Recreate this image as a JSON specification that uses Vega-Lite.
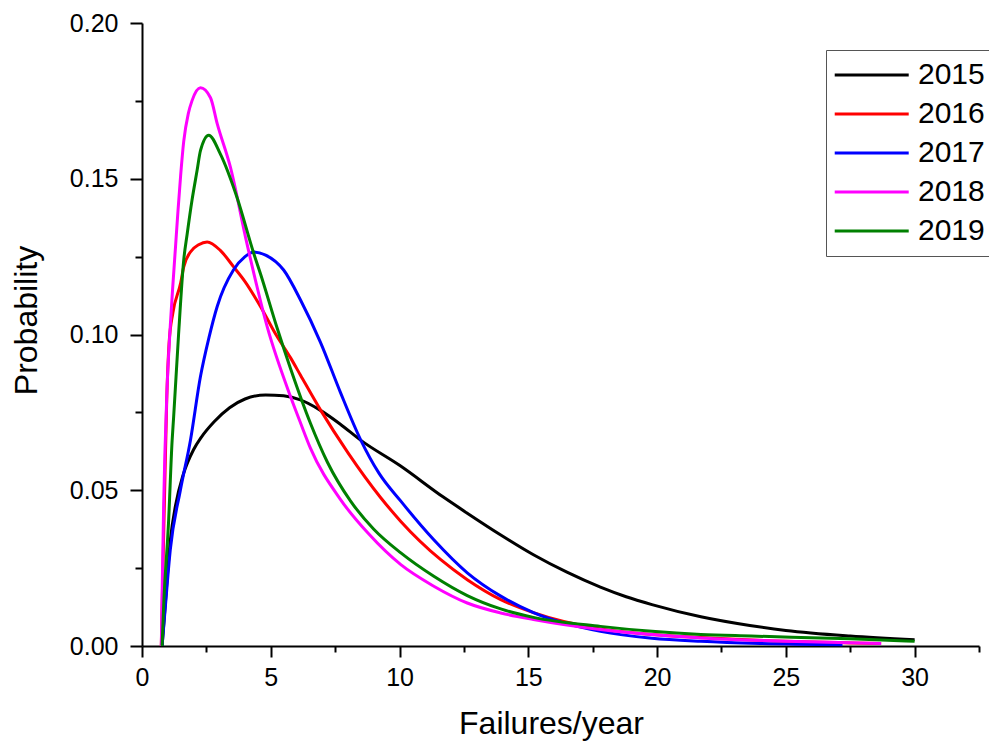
{
  "$schema": "https://vega.github.io/schema/vega-lite/v6.json",
  "width": 837,
  "height": 623,
  "autosize": "none",
  "padding": {"left": 142, "top": 23, "right": 10, "bottom": 97},
  "background": "white",
  "config": {"view": {"stroke": null}, "font": "Liberation Sans"},
  "data": {"values": [
    {"year":"2015","x":0.78,"y":0},{"year":"2015","x":0.9,"y":0.013},{"year":"2015","x":1.1,"y":0.034},{"year":"2015","x":1.3,"y":0.045},{"year":"2015","x":1.6,"y":0.055},{"year":"2015","x":2.0,"y":0.063},{"year":"2015","x":2.3,"y":0.067},{"year":"2015","x":2.8,"y":0.072},{"year":"2015","x":3.4,"y":0.0765},{"year":"2015","x":4.0,"y":0.0793},{"year":"2015","x":4.8,"y":0.0806},{"year":"2015","x":5.5,"y":0.0803},{"year":"2015","x":6.15,"y":0.079},{"year":"2015","x":6.9,"y":0.0758},{"year":"2015","x":7.7,"y":0.0712},{"year":"2015","x":8.5,"y":0.066},{"year":"2015","x":10.0,"y":0.058},{"year":"2015","x":11.7,"y":0.0478},{"year":"2015","x":12.6,"y":0.0428},{"year":"2015","x":13.9,"y":0.0358},{"year":"2015","x":15.2,"y":0.0293},{"year":"2015","x":16.5,"y":0.0237},{"year":"2015","x":17.8,"y":0.0189},{"year":"2015","x":18.8,"y":0.0158},{"year":"2015","x":19.8,"y":0.0133},{"year":"2015","x":21.7,"y":0.0094},{"year":"2015","x":23.6,"y":0.0066},{"year":"2015","x":25.0,"y":0.005},{"year":"2015","x":27.5,"y":0.0032},{"year":"2015","x":30.0,"y":0.002},
    {"year":"2016","x":0.75,"y":0},{"year":"2016","x":0.8,"y":0.02},{"year":"2016","x":0.88,"y":0.05},{"year":"2016","x":0.96,"y":0.079},{"year":"2016","x":1.05,"y":0.097},{"year":"2016","x":1.2,"y":0.107},{"year":"2016","x":1.5,"y":0.1165},{"year":"2016","x":1.62,"y":0.1217},{"year":"2016","x":1.88,"y":0.1265},{"year":"2016","x":2.2,"y":0.1288},{"year":"2016","x":2.53,"y":0.1297},{"year":"2016","x":3.04,"y":0.127},{"year":"2016","x":3.56,"y":0.1217},{"year":"2016","x":4.0,"y":0.117},{"year":"2016","x":4.6,"y":0.109},{"year":"2016","x":5.2,"y":0.1},{"year":"2016","x":5.77,"y":0.0925},{"year":"2016","x":6.15,"y":0.087},{"year":"2016","x":6.93,"y":0.0758},{"year":"2016","x":8.0,"y":0.062},{"year":"2016","x":9.27,"y":0.0476},{"year":"2016","x":10.05,"y":0.04},{"year":"2016","x":11.6,"y":0.0277},{"year":"2016","x":12.63,"y":0.0213},{"year":"2016","x":13.93,"y":0.0149},{"year":"2016","x":15.2,"y":0.0107},{"year":"2016","x":17.8,"y":0.0055},{"year":"2016","x":19.8,"y":0.0037},{"year":"2016","x":21.7,"y":0.0027},{"year":"2016","x":25.0,"y":0.0015},{"year":"2016","x":28.7,"y":0.0008},
    {"year":"2017","x":0.78,"y":0},{"year":"2017","x":0.9,"y":0.012},{"year":"2017","x":1.1,"y":0.031},{"year":"2017","x":1.49,"y":0.05},{"year":"2017","x":1.88,"y":0.066},{"year":"2017","x":2.27,"y":0.0865},{"year":"2017","x":2.6,"y":0.099},{"year":"2017","x":2.92,"y":0.109},{"year":"2017","x":3.55,"y":0.1207},{"year":"2017","x":4.0,"y":0.125},{"year":"2017","x":4.33,"y":0.1265},{"year":"2017","x":4.8,"y":0.1255},{"year":"2017","x":5.5,"y":0.1207},{"year":"2017","x":6.16,"y":0.111},{"year":"2017","x":6.93,"y":0.0975},{"year":"2017","x":7.7,"y":0.0815},{"year":"2017","x":8.49,"y":0.0662},{"year":"2017","x":9.2,"y":0.0555},{"year":"2017","x":10.05,"y":0.0465},{"year":"2017","x":11.33,"y":0.0341},{"year":"2017","x":12.63,"y":0.0235},{"year":"2017","x":13.93,"y":0.016},{"year":"2017","x":15.2,"y":0.0107},{"year":"2017","x":17.8,"y":0.0047},{"year":"2017","x":19.8,"y":0.0025},{"year":"2017","x":21.7,"y":0.0015},{"year":"2017","x":24.0,"y":0.0008},{"year":"2017","x":27.2,"y":0.0004},
    {"year":"2018","x":0.75,"y":0},{"year":"2018","x":0.78,"y":0.016},{"year":"2018","x":0.84,"y":0.045},{"year":"2018","x":0.97,"y":0.082},{"year":"2018","x":1.1,"y":0.103},{"year":"2018","x":1.2,"y":0.116},{"year":"2018","x":1.3,"y":0.128},{"year":"2018","x":1.4,"y":0.14},{"year":"2018","x":1.5,"y":0.151},{"year":"2018","x":1.62,"y":0.162},{"year":"2018","x":1.8,"y":0.171},{"year":"2018","x":1.94,"y":0.175},{"year":"2018","x":2.27,"y":0.1792},{"year":"2018","x":2.66,"y":0.176},{"year":"2018","x":2.92,"y":0.1677},{"year":"2018","x":3.43,"y":0.1538},{"year":"2018","x":4.08,"y":0.129},{"year":"2018","x":4.86,"y":0.1025},{"year":"2018","x":5.77,"y":0.08},{"year":"2018","x":6.16,"y":0.0715},{"year":"2018","x":6.54,"y":0.0635},{"year":"2018","x":7.71,"y":0.047},{"year":"2018","x":8.8,"y":0.036},{"year":"2018","x":10.05,"y":0.0261},{"year":"2018","x":11.33,"y":0.0192},{"year":"2018","x":12.63,"y":0.0138},{"year":"2018","x":13.93,"y":0.0106},{"year":"2018","x":15.2,"y":0.0085},{"year":"2018","x":17.8,"y":0.0053},{"year":"2018","x":19.8,"y":0.0037},{"year":"2018","x":21.7,"y":0.0026},{"year":"2018","x":25.0,"y":0.0015},{"year":"2018","x":28.7,"y":0.0008},
    {"year":"2019","x":0.78,"y":0},{"year":"2019","x":0.84,"y":0.0128},{"year":"2019","x":1.03,"y":0.0396},{"year":"2019","x":1.17,"y":0.066},{"year":"2019","x":1.23,"y":0.0737},{"year":"2019","x":1.42,"y":0.1},{"year":"2019","x":1.62,"y":0.1239},{"year":"2019","x":1.75,"y":0.132},{"year":"2019","x":1.94,"y":0.143},{"year":"2019","x":2.14,"y":0.1527},{"year":"2019","x":2.27,"y":0.159},{"year":"2019","x":2.59,"y":0.164},{"year":"2019","x":3.04,"y":0.158},{"year":"2019","x":3.69,"y":0.144},{"year":"2019","x":4.34,"y":0.126},{"year":"2019","x":4.6,"y":0.1195},{"year":"2019","x":5.25,"y":0.102},{"year":"2019","x":5.77,"y":0.089},{"year":"2019","x":6.54,"y":0.0715},{"year":"2019","x":7.2,"y":0.059},{"year":"2019","x":8.1,"y":0.0465},{"year":"2019","x":9.0,"y":0.0375},{"year":"2019","x":10.05,"y":0.0299},{"year":"2019","x":11.33,"y":0.0224},{"year":"2019","x":12.63,"y":0.0162},{"year":"2019","x":13.93,"y":0.0119},{"year":"2019","x":15.2,"y":0.0092},{"year":"2019","x":17.8,"y":0.0063},{"year":"2019","x":19.8,"y":0.0047},{"year":"2019","x":21.7,"y":0.0037},{"year":"2019","x":23.65,"y":0.0032},{"year":"2019","x":27.5,"y":0.0023},{"year":"2019","x":30.0,"y":0.0015}
  ]},
  "mark": {"type": "line", "strokeWidth": 3, "interpolate": "monotone"},
  "encoding": {
    "x": {
      "field": "x", "type": "quantitative",
      "scale": {"domain": [0, 32.5], "nice": false, "zero": false},
      "axis": {
        "title": "Failures/year",
        "values": [0, 2.5, 5, 7.5, 10, 12.5, 15, 17.5, 20, 22.5, 25, 27.5, 30, 32.5],
        "labelExpr": "datum.value % 5 === 0 ? format(datum.value, 'd') : ''",
        "labelOverlap": false,
        "labelFlush": false,
        "grid": false,
        "domainColor": "black", "domainWidth": 2,
        "tickColor": "black", "tickWidth": 2,
        "tickSize": {"condition": {"test": "datum.value % 5 === 0", "value": 11}, "value": 6},
        "labelPadding": 8,
        "labelFontSize": 25, "labelColor": "black", "labelFont": "Liberation Sans",
        "titleFontSize": 32, "titleFontWeight": "normal", "titleColor": "black", "titleFont": "Liberation Sans",
        "titlePadding": 18, "titleX": 409
      }
    },
    "y": {
      "field": "y", "type": "quantitative",
      "scale": {"domain": [0, 0.2], "nice": false},
      "axis": {
        "title": "Probability",
        "values": [0, 0.025, 0.05, 0.075, 0.1, 0.125, 0.15, 0.175, 0.2],
        "labelExpr": "abs(datum.value * 20 - round(datum.value * 20)) < 0.001 ? format(datum.value, '.2f') : ''",
        "labelOverlap": false,
        "labelFlush": false,
        "grid": false,
        "domainColor": "black", "domainWidth": 2,
        "tickColor": "black", "tickWidth": 2,
        "tickSize": {"condition": {"test": "abs(datum.value * 20 - round(datum.value * 20)) < 0.001", "value": 12}, "value": 7},
        "labelPadding": 12,
        "labelFontSize": 25, "labelColor": "black", "labelFont": "Liberation Sans",
        "titleFontSize": 32, "titleFontWeight": "normal", "titleColor": "black", "titleFont": "Liberation Sans",
        "titlePadding": 26, "titleY": 297
      }
    },
    "color": {
      "field": "year", "type": "nominal",
      "scale": {"domain": ["2015", "2016", "2017", "2018", "2019"], "range": ["#000000", "#ff0000", "#0000ff", "#ff00ff", "#008000"]},
      "legend": {
        "title": null,
        "orient": "none",
        "legendX": 684,
        "legendY": 27,
        "symbolType": "M-2.2,0H7.8",
        "symbolSize": 219,
        "symbolStrokeWidth": 3,
        "labelFontSize": 30,
        "labelFont": "Liberation Sans",
        "labelColor": "black",
        "labelOffset": 52,
        "strokeColor": "#555555",
        "fillColor": "white",
        "padding": 10,
        "rowPadding": 9
      }
    }
  }
}
